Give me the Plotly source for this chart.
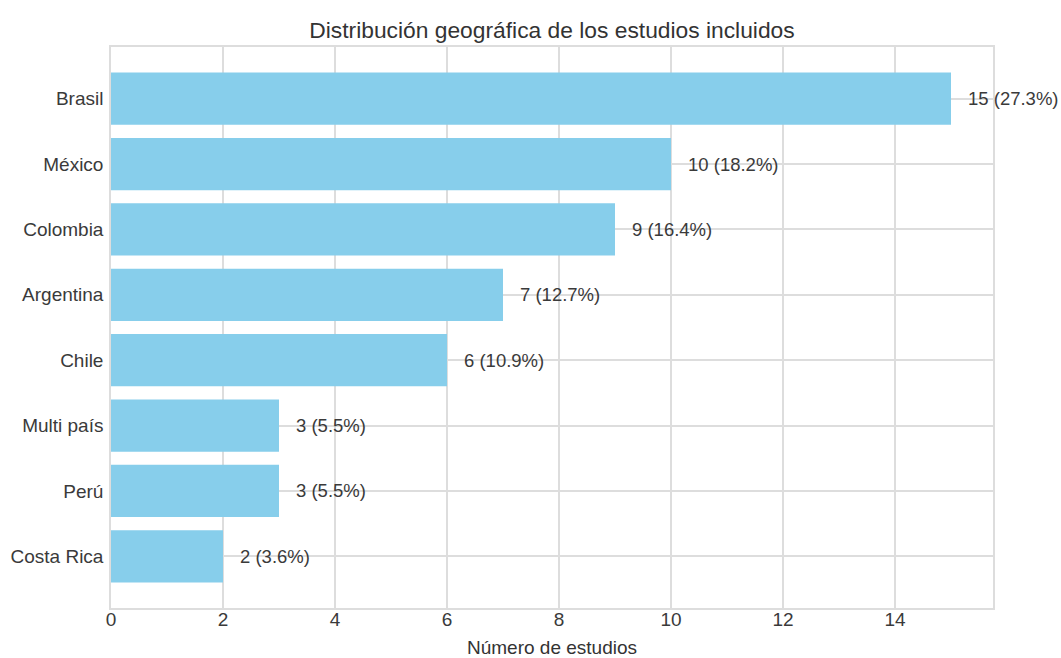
import plotly.graph_objects as go

countries = ["Brasil", "México", "Colombia", "Argentina", "Chile", "Multi país", "Perú", "Costa Rica"]
counts = [15, 10, 9, 7, 6, 3, 3, 2]
total = sum(counts)
labels = [f"{c} ({c / total * 100:.1f}%)" for c in counts]
x_ticks = [0, 2, 4, 6, 8, 10, 12, 14]

FONT = "Liberation Sans, Arial"

fig = go.Figure()
fig.add_trace(go.Bar(
    x=counts, y=countries, orientation="h",
    marker=dict(color="#87CEEB", line=dict(width=0)),
    width=0.8, hoverinfo="skip",
))
for c, n, lab in zip(countries, counts, labels):
    fig.add_annotation(x=n, y=c, text=lab, showarrow=False, xanchor="left",
                       yanchor="middle", xshift=15,
                       font=dict(family=FONT, size=18.5, color="#3a3a3a"))

fig.update_layout(
    width=1061, height=658,
    margin=dict(l=111, r=68, t=47, b=50),
    paper_bgcolor="white", plot_bgcolor="white",
    showlegend=False,
    title=dict(text="Distribución geográfica de los estudios incluidos", x=(111 + 993) / 2 / 1061,
               xanchor="center", y=1 - 30 / 658, yanchor="middle",
               font=dict(family=FONT, size=22.8, color="#333333")),
    font=dict(family=FONT, size=19, color="#3a3a3a"),
)
fig.update_xaxes(range=[0, 15.75], tickvals=x_ticks, showgrid=True, gridcolor="#dddddd", gridwidth=1.5,
                 zeroline=False, showline=True, linecolor="#dddddd", linewidth=1.5, mirror=True,
                 ticks="", automargin=False, ticklabelstandoff=-7,
                 title=dict(text="Número de estudios", standoff=12,
                            font=dict(size=19, color="#333333")))
fig.update_yaxes(categoryorder="array", categoryarray=countries, range=[7.79, -0.79],
                 showgrid=True, gridcolor="#dddddd", gridwidth=1.5, zeroline=False,
                 showline=True, linecolor="#dddddd", linewidth=1.5, mirror=True, ticks="",
                 automargin=False, ticklabelstandoff=2)

fig.write_html("out.html")
